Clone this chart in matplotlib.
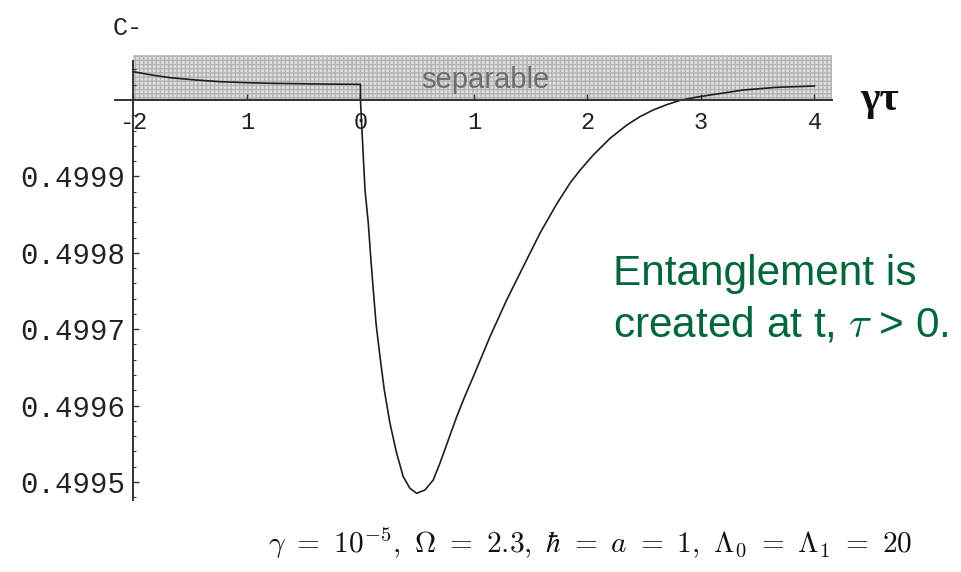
import numpy as np
import matplotlib.pyplot as plt
from matplotlib.ticker import FixedLocator, FuncFormatter

plt.rcParams['mathtext.fontset'] = 'cm'

# C- against gamma*tau, before (tau < 0) and after (tau > 0) the switch
x_before = [-2.0, -1.85, -1.678, -1.45, -1.238, -1.0, -0.797, -0.4, 0.0]
c_before = [0.5000370, 0.5000330, 0.5000292, 0.5000262, 0.5000240, 0.5000227,
            0.5000219, 0.5000210, 0.5000205]

x_after = [0.0, 0.010, 0.025, 0.040, 0.069, 0.090, 0.113, 0.137, 0.172, 0.210,
           0.260, 0.319, 0.377, 0.436, 0.495, 0.568, 0.641, 0.700, 0.771,
           0.848, 0.921, 0.994, 1.141, 1.288, 1.434, 1.581, 1.729, 1.850,
           1.934, 2.051, 2.200, 2.345, 2.460, 2.580, 2.700, 2.815, 2.950,
           3.079, 3.373, 3.667, 4.0]
c_after = [0.5, 0.4999695, 0.4999258, 0.4998822, 0.4998386, 0.4997949,
           0.4997513, 0.4997077, 0.4996640, 0.4996204, 0.4995768, 0.4995375,
           0.4995069, 0.4994917, 0.4994852, 0.4994895, 0.4995026, 0.4995245,
           0.4995537, 0.4995855, 0.4996126, 0.4996378, 0.4996902, 0.4997382,
           0.4997818, 0.4998255, 0.4998640, 0.4998920, 0.4999080, 0.4999280,
           0.4999500, 0.4999670, 0.4999780, 0.4999870, 0.4999940, 0.4999995,
           0.5000035, 0.5000065, 0.5000131, 0.5000166, 0.5000183]

x_ticks = [-2, -1, 0, 1, 2, 3, 4]
x_ticklabels = ['-2', '1', '0', '1', '2', '3', '4']
y_ticks = [0.4995, 0.4996, 0.4997, 0.4998, 0.4999]

# shaded band marking the separable region (C- >= 1/2)
sep_x = [-2.0, 4.154]
sep_top = 0.5000589

fig = plt.figure(figsize=(9.62, 5.72), dpi=100)
ax = fig.add_axes([0, 0, 1, 1])
ax.set_xlim(-3.176, 5.300)
ax.set_ylim(0.4993822, 0.5001309)

ax.fill_between(sep_x, 0.5, sep_top, facecolor='#dedede', edgecolor='#b4b4b4',
                hatch='++++', linewidth=0, zorder=1)
ax.text(1.097, 0.5000262, 'separable', ha='center', va='center', fontsize=21,
        family='Liberation Sans', color='#6e6e6e', zorder=2)

ax.plot(x_before + x_after, c_before + c_after, color='#1e1e1e', lw=1.2,
        zorder=3, solid_joinstyle='round')

# Mathematica style axes crossing at (-2, 1/2)
for side in ['top', 'right']:
    ax.spines[side].set_visible(False)
ax.spines['left'].set_position(('data', -2.0))
ax.spines['bottom'].set_position(('data', 0.5))
ax.spines['left'].set_bounds(0.4994764, 0.500051)
ax.spines['bottom'].set_bounds(-2.163, 4.154)
for side in ['left', 'bottom']:
    ax.spines[side].set_color('#333333')
    ax.spines[side].set_linewidth(1.4)
    ax.spines[side].set_zorder(4)

ax.set_xticks(x_ticks)
ax.set_xticklabels(x_ticklabels)
ax.yaxis.set_major_locator(FixedLocator(y_ticks))
ax.yaxis.set_major_formatter(FuncFormatter(lambda v, p: '%.4f' % v))
minor = [v for v in np.round(np.arange(0.49948, 0.50005, 0.00002), 5)
         if not np.any(np.isclose(v, y_ticks + [0.5]))]
ax.yaxis.set_minor_locator(FixedLocator(minor))

ax.tick_params(axis='x', direction='in', length=4, width=1, color='#333333',
               pad=8, labelsize=17, labelcolor='#222222')
ax.tick_params(axis='y', which='major', direction='in', length=4, width=1,
               color='#333333', pad=6, labelsize=21, labelcolor='#222222')
ax.tick_params(axis='y', which='minor', direction='in', length=2.5, width=0.8,
               color='#333333')
for lab in ax.get_xticklabels() + ax.get_yticklabels():
    lab.set_family('Liberation Mono')

# axis labels
fig.text(113 / 962, 1 - 35 / 572, 'C-', fontsize=18, family='Liberation Mono',
         color='#222222', va='baseline')
fig.text(860 / 962, 1 - 110 / 572, 'γτ', fontsize=30, family='Liberation Serif',
         fontweight='bold', color='#111111', va='baseline')

green = '#00673a'
fig.text(613 / 962, 1 - 285 / 572, 'Entanglement is', fontsize=30.5,
         family='Liberation Sans', color=green, va='baseline')
fig.text(613 / 962, 1 - 337 / 572, r'created at t, $\tau$ > 0.', fontsize=30.5,
         family='Liberation Sans', color=green, va='baseline')

fig.text(268 / 962, 1 - 553 / 572,
         r'$\gamma\ =\ 10^{-5},\ \Omega\ =\ 2.3,\ \hbar\ =\ a\ =\ 1,'
         r'\ \Lambda_0\ =\ \Lambda_1\ =\ 20$',
         fontsize=21.2, color='#111111', va='baseline')

fig.savefig('out.png', dpi=100)
